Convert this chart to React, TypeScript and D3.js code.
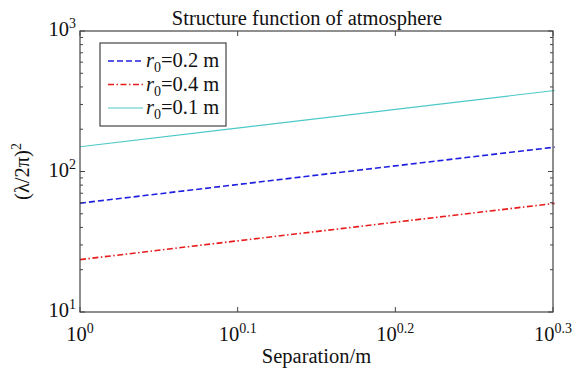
import * as d3 from "d3";

// separation (m) and structure function values
const separation = [1, 1.25, 1.5, 1.75, 2];
const r02 = [59.5, 80, 102, 125, 149];
const r04 = [23.6, 31.8, 40.5, 49.7, 59.3];
const r01 = [150, 202, 257, 316, 377];

const xTickExps = ["0", "0.1", "0.2", "0.3"];
const yTickExps = ["1", "2", "3"];

const series = [
  { label: "0.2 m", values: r02, color: "#1f1fe0", dash: "6,3", width: 1.6 },
  { label: "0.4 m", values: r04, color: "#e81c1c", dash: "6,2.5,1.5,2.5", width: 1.6 },
  { label: "0.1 m", values: r01, color: "#4ec8c8", dash: "", width: 1.2 },
];

const W = 579;
const H = 372;
const m = { left: 80, right: 553, top: 31, bottom: 312 };
const font = "'Liberation Serif', 'Times New Roman', serif";
const axisColor = "#444";
const fs = 20.5;
const sup = 14;

export default function App() {
  const x = d3
    .scaleLog()
    .domain([1, Math.pow(10, 0.3)])
    .range([m.left, m.right]);
  const y = d3.scaleLog().domain([10, 1000]).range([m.bottom, m.top]);

  const line = d3
    .line<number>()
    .x((_, i) => x(separation[i]))
    .y((d) => y(d));

  const yMinor = y.ticks().filter((t) => ![10, 100, 1000].includes(t));

  return (
    <svg
      width={W}
      height={H}
      style={{ position: "absolute", left: 0, top: 0, background: "#fff" }}
      fontFamily={font}
    >
      {/* series */}
      {series.map((s) => (
        <path
          key={s.label}
          d={line(s.values) ?? ""}
          fill="none"
          stroke={s.color}
          strokeWidth={s.width}
          strokeDasharray={s.dash}
        />
      ))}

      {/* box */}
      <rect
        x={m.left}
        y={m.top}
        width={m.right - m.left}
        height={m.bottom - m.top}
        fill="none"
        stroke={axisColor}
        strokeWidth={1.2}
      />

      {/* x ticks */}
      {xTickExps.map((e) => {
        const px = x(Math.pow(10, +e));
        return (
          <g key={e}>
            <line x1={px} x2={px} y1={m.bottom} y2={m.bottom - 5} stroke={axisColor} />
            <line x1={px} x2={px} y1={m.top} y2={m.top + 5} stroke={axisColor} />
            <text x={px} y={341} textAnchor="middle" fontSize={fs} fill="#111">
              10<tspan dy={-8} fontSize={sup}>{e}</tspan>
            </text>
          </g>
        );
      })}

      {/* y ticks */}
      {yTickExps.map((e) => {
        const py = y(Math.pow(10, +e));
        return (
          <g key={e}>
            <line x1={m.left} x2={m.left + 5} y1={py} y2={py} stroke={axisColor} />
            <line x1={m.right} x2={m.right - 5} y1={py} y2={py} stroke={axisColor} />
            <text x={76} y={py + 5} textAnchor="end" fontSize={fs} fill="#111">
              10<tspan dy={-8} fontSize={sup}>{e}</tspan>
            </text>
          </g>
        );
      })}
      {yMinor.map((t) => (
        <g key={t}>
          <line x1={m.left} x2={m.left + 3} y1={y(t)} y2={y(t)} stroke={axisColor} />
          <line x1={m.right} x2={m.right - 3} y1={y(t)} y2={y(t)} stroke={axisColor} />
        </g>
      ))}

      {/* labels */}
      <text x={307} y={25} textAnchor="middle" fontSize={fs} fill="#111">
        Structure function of atmosphere
      </text>
      <text x={316.5} y={363} textAnchor="middle" fontSize={fs} fill="#111">
        Separation/m
      </text>
      <text
        transform={`translate(29,${(m.top + m.bottom) / 2}) rotate(-90)`}
        textAnchor="middle"
        fontSize={fs}
        fill="#111"
      >
        (λ/2π)<tspan dy={-8} fontSize={sup}>2</tspan>
      </text>

      {/* legend */}
      <rect x={100} y={43} width={126} height={83} fill="#fff" stroke={axisColor} strokeWidth={1.2} />
      {series.map((s, i) => {
        const ly = 61 + i * 23.5;
        return (
          <g key={s.label}>
            <line
              x1={108}
              x2={143}
              y1={ly}
              y2={ly}
              stroke={s.color}
              strokeWidth={s.width}
              strokeDasharray={s.dash}
            />
            <text x={146} y={ly + 6} fontSize={fs} fill="#111">
              <tspan fontStyle="italic">r</tspan>
              <tspan dy={5} fontSize={sup}>0</tspan>
              <tspan dy={-5}>={s.label}</tspan>
            </text>
          </g>
        );
      })}
    </svg>
  );
}
